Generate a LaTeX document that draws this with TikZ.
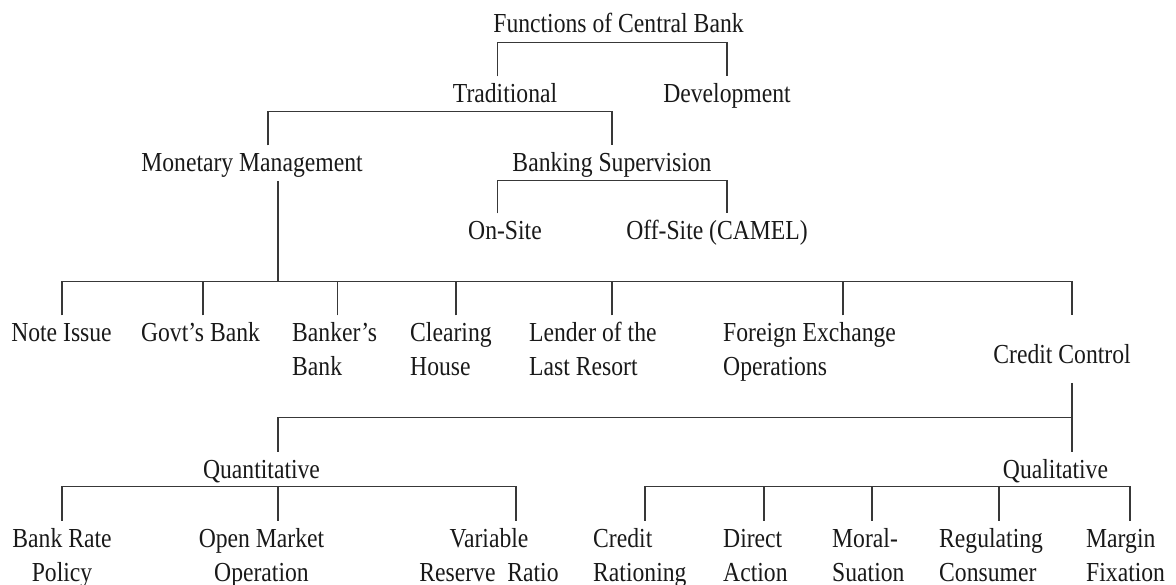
\documentclass[tikz,border=0pt]{standalone}
\usepackage{fontspec}
\setmainfont{Liberation Serif}[FakeStretch=0.86]
\newcommand{\ctrlines}[1]{\begin{tabular}[t]{@{}c@{}}#1\end{tabular}}
\newcommand{\lftlines}[1]{\begin{tabular}[t]{@{}l@{}}#1\end{tabular}}
\begin{document}
\begin{tikzpicture}[x=1pt,y=-1pt,
  lbl/.style={inner xsep=0pt,inner ysep=2.5pt,font=\fontsize{27.5}{34}\selectfont,text=black!90},
  ctr/.style={lbl,anchor=base},
  lft/.style={lbl,anchor=base west},
  link/.style={line width=1.3pt,draw=black!78}]
\useasboundingbox (0,0) rectangle (1176,585);

% level 0 and 1
\node[ctr] (fun)  at (618.5,33) {\ctrlines{Functions of Central Bank}};
\node[ctr] (trad) at (505,103)  {\ctrlines{Traditional}};
\node[ctr] (dev)  at (727,103)  {\ctrlines{Development}};
% level 2
\node[ctr] (mm)   at (252,172)  {\ctrlines{Monetary Management}};
\node[ctr] (bs)   at (612,172)  {\ctrlines{Banking Supervision}};
\node[ctr] (ons)  at (505,240)  {\ctrlines{On-Site}};
\node[ctr] (offs) at (717,240)  {\ctrlines{Off-Site (CAMEL)}};
% functions of monetary management
\node[ctr] (ni) at (61.5,342) {\ctrlines{Note Issue}};
\node[ctr] (gb) at (200.5,342) {\ctrlines{Govt’s Bank}};
\node[lft] (bb) at (292,342) {\lftlines{Banker’s\\Bank}};
\node[lft] (ch) at (410,342) {\lftlines{Clearing\\House}};
\node[lft] (lr) at (529,342) {\lftlines{Lender of the\\Last Resort}};
\node[lft] (fe) at (723,342) {\lftlines{Foreign Exchange\\Operations}};
\node[ctr] (cc) at (1062,363) {\ctrlines{Credit Control}};
% credit control
\node[ctr] (quant) at (261.5,478) {\ctrlines{Quantitative}};
\node[ctr] (qual)  at (1055.5,478) {\ctrlines{Qualitative}};
\node[ctr] (br) at (62,547)   {\ctrlines{Bank Rate\\Policy}};
\node[ctr] (om) at (261.5,547) {\ctrlines{Open Market\\Operation}};
\node[ctr] (vr) at (489,547)  {\ctrlines{Variable\\Reserve~~Ratio}};
\node[lft] (cr) at (593,547)  {\lftlines{Credit\\Rationing}};
\node[lft] (da) at (723,547)  {\lftlines{Direct\\Action}};
\node[lft] (ms) at (832,547)  {\lftlines{Moral-\\Suation}};
\node[lft] (rc) at (939,547)  {\lftlines{Regulating\\Consumer}};
\node[lft] (mf) at (1086,547) {\lftlines{Margin\\Fixation}};

% entry points of the connectors
\coordinate (trad-in) at (trad.north -| 497.5,0);
\coordinate (dev-in)  at (dev.north -| 727,0);
\coordinate (mm-in)   at (mm.north -| 268,0);
\coordinate (bs-in)   at (bs.north -| 612,0);
\coordinate (ons-in)  at (ons.north -| 497.5,0);
\coordinate (offs-in) at (offs.north -| 727,0);
\coordinate (mm-out)  at ([yshift=4pt]mm.south -| 278,0);
\coordinate (ni-in) at (ni.north -| 62,0);
\coordinate (gb-in) at (gb.north -| 203,0);
\coordinate (bb-in) at (bb.north -| 337.5,0);
\coordinate (ch-in) at (ch.north -| 456,0);
\coordinate (lr-in) at (lr.north -| 612,0);
\coordinate (fe-in) at (fe.north -| 843,0);
\coordinate (cc-in) at (ni.north -| 1072,0);
\coordinate (cc-out) at ([yshift=-7pt]cc.south -| 1072,0);
\coordinate (quant-in) at (quant.north -| 278,0);
\coordinate (qual-in)  at (qual.north -| 1072,0);
\coordinate (br-in) at (br.north -| 62,0);
\coordinate (om-in) at (om.north -| 278,0);
\coordinate (vr-in) at (vr.north -| 516,0);
\coordinate (cr-in) at (cr.north -| 645,0);
\coordinate (da-in) at (da.north -| 764,0);
\coordinate (ms-in) at (ms.north -| 872,0);
\coordinate (rc-in) at (rc.north -| 999,0);
\coordinate (mf-in) at (mf.north -| 1130,0);

% brackets
\draw[link] (trad-in) -- ++(0,-34) -| (dev-in);
\draw[link] (mm-in) -- ++(0,-34) -| (bs-in);
\draw[link] (ons-in) -- ++(0,-33) -| (offs-in);
\draw[link] (ni-in) -- ++(0,-34) coordinate (b3) -| (cc-in);
\draw[link] (mm-out) -- (mm-out |- b3);
\foreach \n in {gb,bb,ch,lr,fe} \draw[link] (\n-in) -- (\n-in |- b3);
\draw[link] (cc-out) -- (qual-in);
\draw[link] (quant-in) -- ++(0,-34) -| (qual-in);
\draw[link] (br-in) -- ++(0,-34) coordinate (bq) -| (vr-in);
\draw[link] (om-in) -- (om-in |- bq);
\draw[link] (cr-in) -- ++(0,-34) coordinate (bl) -| (mf-in);
\foreach \n in {da,ms,rc} \draw[link] (\n-in) -- (\n-in |- bl);
\end{tikzpicture}
\end{document}
